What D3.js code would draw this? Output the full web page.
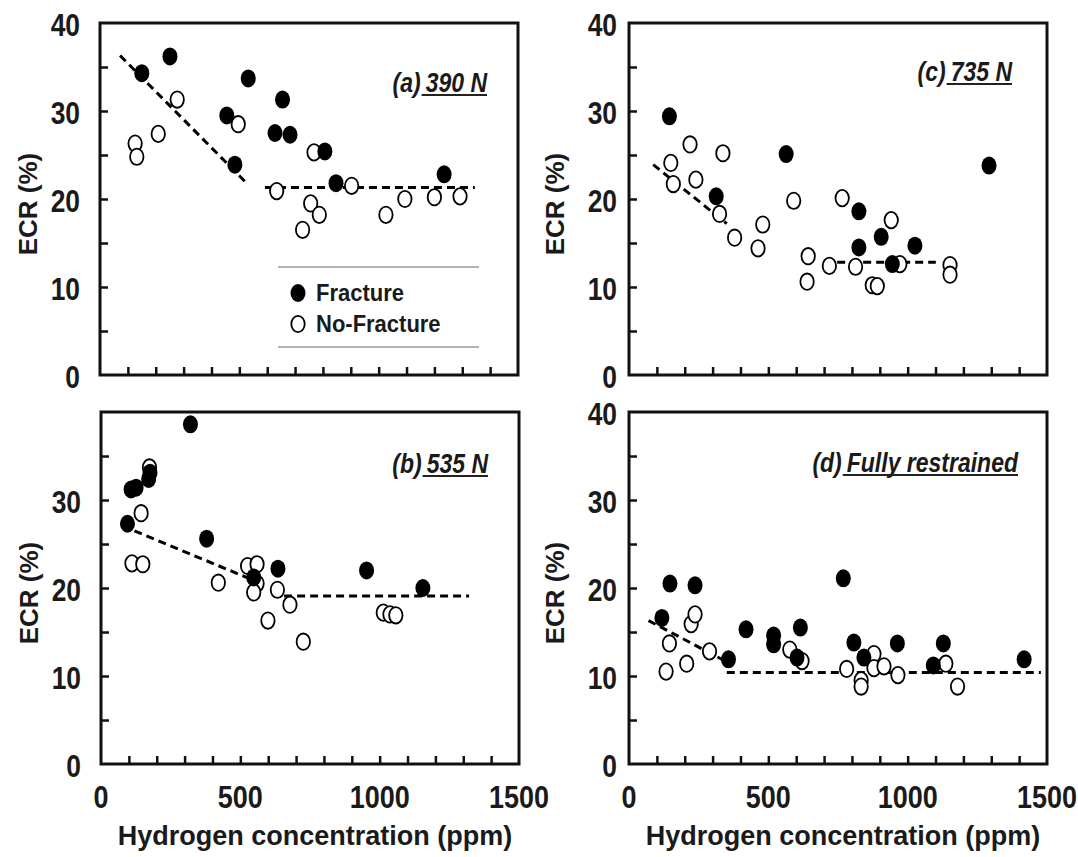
<!DOCTYPE html>
<html>
<head>
<meta charset="utf-8">
<script src="https://cdn.jsdelivr.net/npm/d3@7"></script>
<style>
  html, body { margin: 0; padding: 0; background: #fff; }
  svg text { font-family: "Liberation Sans", Arial, Helvetica, sans-serif; font-weight: bold; fill: #1a1a1a; }
</style>
</head>
<body>
<svg id="chart" width="1078" height="857"></svg>
<script>
"use strict";

// hydrogen concentration (ppm), ECR (%)
var fracA = [[150,34.3],[251,36.2],[532,33.7],[455,29.5],[484,23.9],[655,31.3],[628,27.5],[682,27.3],[807,25.4],[847,21.8],[1235,22.8]];
var openA = [[126,26.3],[132,24.8],[209,27.4],[277,31.3],[496,28.5],[634,20.9],[768,25.3],[756,19.5],[787,18.2],[727,16.5],[903,21.5],[1026,18.2],[1094,20.0],[1200,20.2],[1292,20.3]];
var fitA = [[[72,36.3],[520,22.0]], [[592,21.3],[1345,21.3]]];

var fracB = [[321,38.6],[108,31.2],[126,31.4],[171,32.4],[176,33.1],[95,27.3],[379,25.6],[548,21.2],[635,22.2],[953,22.0],[1155,20.0]];
var openB = [[174,33.7],[144,28.5],[111,22.8],[150,22.7],[421,20.6],[526,22.5],[560,22.7],[560,20.5],[548,19.5],[633,19.8],[678,18.1],[599,16.3],[726,13.9],[1013,17.2],[1037,17.0],[1058,16.9]];
var fitB = [[[120,26.5],[530,21.1]], [[657,19.1],[1321,19.1]]];

var fracC = [[145,29.4],[564,25.1],[313,20.3],[825,18.6],[825,14.5],[905,15.7],[1026,14.7],[945,12.6],[1292,23.8]];
var openC = [[150,24.1],[159,21.7],[219,26.2],[240,22.2],[337,25.2],[325,18.3],[379,15.6],[480,17.1],[463,14.4],[591,19.8],[765,20.1],[643,13.5],[639,10.6],[719,12.4],[813,12.3],[941,17.6],[972,12.6],[873,10.2],[891,10.1],[1152,12.5],[1152,11.4]];
var fitC = [[[87,23.9],[351,17.2]], [[747,12.8],[1101,12.8]]];

var fracD = [[147,20.5],[237,20.3],[118,16.6],[420,15.3],[519,14.6],[519,13.6],[615,15.5],[603,12.1],[357,11.9],[769,21.1],[807,13.8],[843,12.1],[963,13.7],[1128,13.7],[1092,11.2],[1418,11.9]];
var openD = [[145,13.7],[133,10.5],[207,11.4],[223,15.9],[237,17.0],[289,12.8],[577,13.0],[621,11.7],[781,10.8],[833,9.5],[833,8.8],[879,12.5],[879,10.9],[915,11.1],[965,10.1],[1137,11.4],[1179,8.8]];
var fitD = [[[70,16.3],[345,11.7]], [[351,10.4],[1478,10.4]]];

var xDomain = [0, 1500];
var yDomain = [0, 40];
var xLabelTicks = [0, 500, 1000, 1500];
var xMinorTicks = d3.range(100, 1500, 100);
var yMinorTicks = d3.range(5, 40, 5);
var legendItems = ["Fracture", "No-Fracture"];

var panels = [
  { left: 100, top: 23, frac: fracA, open: openA, fits: fitA, tag: "(a)", load: "390 N",
    yLabels: [0, 10, 20, 30, 40], xLabels: false, legend: true, titleRight: 487, titleBase: 92, labelGap: 20 },
  { left: 101, top: 412, frac: fracB, open: openB, fits: fitB, tag: "(b)", load: "535 N",
    yLabels: [0, 10, 20, 30], xLabels: true, legend: false, titleRight: 488, titleBase: 473, labelGap: 20 },
  { left: 629, top: 23, frac: fracC, open: openC, fits: fitC, tag: "(c)", load: "735 N",
    yLabels: [0, 10, 20, 30, 40], xLabels: false, legend: false, titleRight: 1012, titleBase: 81, labelGap: 12 },
  { left: 629, top: 412, frac: fracD, open: openD, fits: fitD, tag: "(d)", load: "Fully restrained",
    yLabels: [0, 10, 20, 30, 40], xLabels: true, legend: false, titleRight: 1018, titleBase: 472, labelGap: 12 }
];

var W = 418, H = 352;
var RX = 7.5, RY = 9;

var svg = d3.select("#chart");

function drawMarker(g, cx, cy, filled) {
  g.append("ellipse")
    .attr("cx", cx).attr("cy", cy)
    .attr("rx", filled ? RX : RX - 0.8).attr("ry", filled ? RY : RY - 0.8)
    .attr("fill", filled ? "#000" : "#fff")
    .attr("stroke", "#000")
    .attr("stroke-width", filled ? 0 : 1.8);
}

panels.forEach(function (p) {
  var x = d3.scaleLinear().domain(xDomain).range([0, W]);
  var y = d3.scaleLinear().domain(yDomain).range([H, 0]);
  var g = svg.append("g").attr("transform", "translate(" + p.left + "," + p.top + ")");

  // minor ticks, pointing inwards
  g.append("g")
    .attr("transform", "translate(0," + H + ")")
    .call(d3.axisBottom(x).tickValues(xMinorTicks).tickSize(-8).tickFormat(""))
    .call(function (a) { a.select(".domain").remove(); a.selectAll("line").attr("stroke", "#111").attr("stroke-width", 2.5); });
  g.append("g")
    .call(d3.axisLeft(y).tickValues(yMinorTicks).tickSize(-8).tickFormat(""))
    .call(function (a) { a.select(".domain").remove(); a.selectAll("line").attr("stroke", "#111").attr("stroke-width", 2.5); });

  // y tick labels
  g.append("g")
    .selectAll("text")
    .data(p.yLabels)
    .enter()
    .append("text")
    .attr("transform", function (d) { return "translate(" + (-p.labelGap) + "," + (y(d) + 13) + ") scale(0.88,1.05)"; })
    .attr("text-anchor", "end")
    .attr("font-size", 30)
    .text(function (d) { return d; });

  if (p.xLabels) {
    g.append("g")
      .selectAll("text")
      .data(xLabelTicks)
      .enter()
      .append("text")
      .attr("transform", function (d) { return "translate(" + x(d) + "," + (H + 44) + ") scale(0.9,1.05)"; })
      .attr("text-anchor", "middle")
      .attr("font-size", 30)
      .text(function (d) { return d; });

    g.append("text")
      .attr("x", W / 2 + 5)
      .attr("y", H + 81)
      .attr("text-anchor", "middle")
      .attr("font-size", 27)
      .text("Hydrogen concentration (ppm)");
  }

  // y title
  g.append("text")
    .attr("transform", "translate(" + (p.left < 300 ? -63 : -65) + "," + (H / 2 + 5) + ") rotate(-90)")
    .attr("text-anchor", "middle")
    .attr("font-size", 26)
    .text("ECR (%)");

  // fit lines
  var line = d3.line().x(function (d) { return x(d[0]); }).y(function (d) { return y(d[1]); });
  g.selectAll("path.fit")
    .data(p.fits)
    .enter()
    .append("path")
    .attr("class", "fit")
    .attr("d", line)
    .attr("fill", "none")
    .attr("stroke", "#000")
    .attr("stroke-width", 3)
    .attr("stroke-dasharray", "8,5");

  // points
  var pts = g.append("g");
  p.open.forEach(function (d) { drawMarker(pts, x(d[0]), y(d[1]), false); });
  p.frac.forEach(function (d) { drawMarker(pts, x(d[0]), y(d[1]), true); });

  // frame
  g.append("rect")
    .attr("width", W).attr("height", H)
    .attr("fill", "none")
    .attr("stroke", "#111")
    .attr("stroke-width", 3);

  // panel title: tag + underlined load
  var tr = p.titleRight - p.left, tb = p.titleBase - p.top;
  var loadText = g.append("text")
    .attr("transform", "translate(" + tr + "," + tb + ") scale(0.92,1.1)")
    .attr("text-anchor", "end")
    .attr("font-size", 25)
    .attr("font-style", "italic")
    .attr("fill", "#222")
    .text(p.load);
  var lw = loadText.node().getComputedTextLength() * 0.92;
  g.append("text")
    .attr("transform", "translate(" + (tr - lw - 5) + "," + tb + ") scale(0.92,1.1)")
    .attr("text-anchor", "end")
    .attr("font-size", 25)
    .attr("font-style", "italic")
    .attr("fill", "#222")
    .text(p.tag);
  g.append("line")
    .attr("x1", tr - lw - 4).attr("x2", tr)
    .attr("y1", tb + 3).attr("y2", tb + 3)
    .attr("stroke", "#222")
    .attr("stroke-width", 2);

  if (p.legend) {
    var lg = g.append("g").attr("transform", "translate(" + (278 - p.left) + "," + (267 - p.top) + ")");
    [0, 80].forEach(function (dy) {
      lg.append("line").attr("x1", 0).attr("x2", 201).attr("y1", dy).attr("y2", dy)
        .attr("stroke", "#999").attr("stroke-width", 1.5);
    });
    legendItems.forEach(function (name, i) {
      var cy = 26 + i * 31;
      drawMarker(lg, 20, cy, i === 0);
      lg.append("text")
        .attr("transform", "translate(38," + (cy + 8) + ") scale(1,1.1)")
        .attr("font-size", 22)
        .text(name);
    });
  }
});
</script>
</body>
</html>
